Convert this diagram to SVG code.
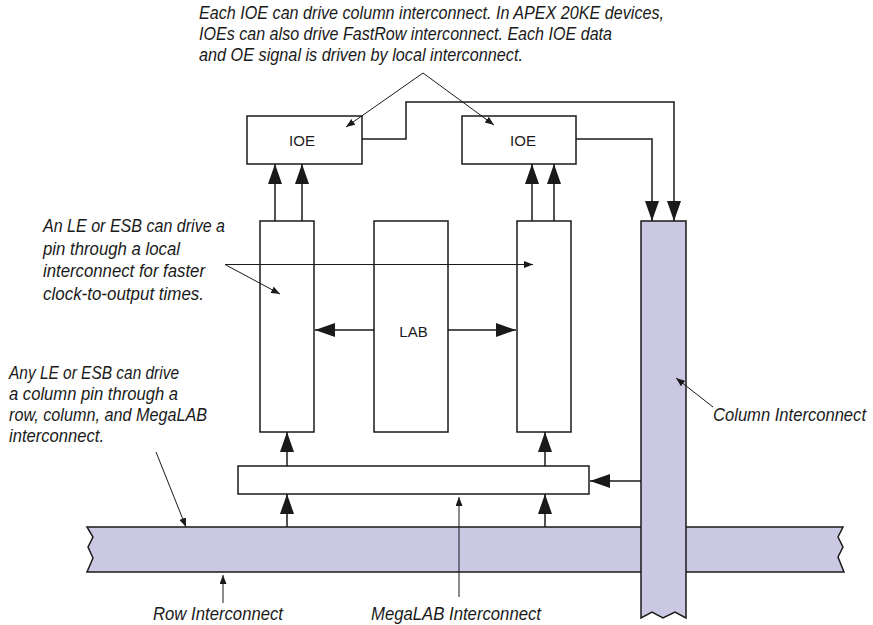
<svg xmlns="http://www.w3.org/2000/svg" width="873" height="625" viewBox="0 0 873 625">
<style>
.box{fill:#fff;stroke:#1a1a1a;stroke-width:1.5}
.band{fill:#cac8e3;stroke:#1a1a1a;stroke-width:1.5}
.conn{fill:none;stroke:#1a1a1a;stroke-width:1.5}
.ann{fill:none;stroke:#1a1a1a;stroke-width:1}
.lbl{font-family:"Liberation Sans",Arial,sans-serif;font-size:15px;fill:#1a1a1a;text-anchor:middle}
.note{font-family:"Liberation Sans",Arial,sans-serif;font-size:17.5px;font-style:italic;fill:#1a1a1a}
</style>
<defs>
<marker id="big" viewBox="0 0 20 14" markerWidth="20" markerHeight="14" refX="20" refY="7" orient="auto" markerUnits="userSpaceOnUse">
<path d="M0,0 L20,7 L0,14 z" fill="#1a1a1a"/>
</marker>
<marker id="small" viewBox="0 0 9 7" markerWidth="9" markerHeight="7" refX="9" refY="3.5" orient="auto" markerUnits="userSpaceOnUse">
<path d="M0,0 L9,3.5 L0,7 z" fill="#1a1a1a"/>
</marker>
</defs>
<rect width="873" height="625" fill="#fff"/>

<g id="row-interconnect">
<polygon class="band" points="87,527 843,527 838,537 843,547 838,557 844,572 87,572 93,558 88,547 93,537"/>
</g>
<g id="column-interconnect">
<polygon class="band" points="641,221 686,221 686,618 675,612 663,618 652,612 641,618"/>
</g>

<g id="ioe-left">
<rect class="box" x="247" y="116" width="115" height="48"/>
<text class="lbl" x="302" y="146">IOE</text>
</g>
<g id="ioe-right">
<rect class="box" x="462" y="116" width="114" height="48"/>
<text class="lbl" x="523" y="146">IOE</text>
</g>
<g id="le-left">
<rect class="box" x="260" y="221" width="54" height="211"/>
</g>
<g id="lab">
<rect class="box" x="374" y="221" width="74" height="211"/>
<text class="lbl" x="413.5" y="337">LAB</text>
</g>
<g id="le-right">
<rect class="box" x="517" y="221" width="54" height="211"/>
</g>
<g id="megalab">
<rect class="box" x="238" y="466" width="351" height="28"/>
</g>

<g id="connectors">
<path class="conn" d="M275,221 V164" marker-end="url(#big)"/>
<path class="conn" d="M302,221 V164" marker-end="url(#big)"/>
<path class="conn" d="M532,221 V164" marker-end="url(#big)"/>
<path class="conn" d="M554,221 V164" marker-end="url(#big)"/>
<path class="conn" d="M362,139 H406 V102 H674 V221" marker-end="url(#big)"/>
<path class="conn" d="M576,139 H652 V221" marker-end="url(#big)"/>
<path class="conn" d="M374,330 H315" marker-end="url(#big)"/>
<path class="conn" d="M448,330 H516" marker-end="url(#big)"/>
<path class="conn" d="M287,466 V432" marker-end="url(#big)"/>
<path class="conn" d="M545,466 V432" marker-end="url(#big)"/>
<path class="conn" d="M287,527 V494" marker-end="url(#big)"/>
<path class="conn" d="M545,527 V494" marker-end="url(#big)"/>
<path class="conn" d="M641,481 H590" marker-end="url(#big)"/>
</g>

<g id="annotation-lines">
<path class="ann" d="M423,73 L346,127" marker-end="url(#small)"/>
<path class="ann" d="M423,73 L494,125" marker-end="url(#small)"/>
<path class="ann" d="M225,264.5 L280,294" marker-end="url(#small)"/>
<path class="ann" d="M225,264.5 H533" marker-end="url(#small)"/>
<path class="ann" d="M156,452 L186,527" marker-end="url(#small)"/>
<path class="ann" d="M713,407 L676,378" marker-end="url(#small)"/>
<path class="ann" d="M223,603 V575" marker-end="url(#small)"/>
<path class="ann" d="M459,597 V497" marker-end="url(#small)"/>
</g>

<g id="notes">
<text class="note" x="199" y="19" textLength="465" lengthAdjust="spacingAndGlyphs">Each IOE can drive column interconnect. In APEX 20KE devices,</text>
<text class="note" x="199" y="40" textLength="413" lengthAdjust="spacingAndGlyphs">IOEs can also drive FastRow interconnect. Each IOE data</text>
<text class="note" x="199" y="60.5" textLength="324" lengthAdjust="spacingAndGlyphs">and OE signal is driven by local interconnect.</text>

<text class="note" x="43" y="232" textLength="182" lengthAdjust="spacingAndGlyphs">An LE or ESB can drive a</text>
<text class="note" x="43" y="254.5" textLength="137" lengthAdjust="spacingAndGlyphs">pin through a local</text>
<text class="note" x="43" y="277" textLength="162" lengthAdjust="spacingAndGlyphs">interconnect for faster</text>
<text class="note" x="43" y="299.5" textLength="161" lengthAdjust="spacingAndGlyphs">clock-to-output times.</text>

<text class="note" x="9" y="379" textLength="170" lengthAdjust="spacingAndGlyphs">Any LE or ESB can drive</text>
<text class="note" x="9" y="400" textLength="169" lengthAdjust="spacingAndGlyphs">a column pin through a</text>
<text class="note" x="9" y="421" textLength="198" lengthAdjust="spacingAndGlyphs">row, column, and MegaLAB</text>
<text class="note" x="9" y="442" textLength="95" lengthAdjust="spacingAndGlyphs">interconnect.</text>

<text class="note" x="713" y="421" textLength="153" lengthAdjust="spacingAndGlyphs">Column Interconnect</text>
<text class="note" x="153" y="620" textLength="130" lengthAdjust="spacingAndGlyphs">Row Interconnect</text>
<text class="note" x="371" y="620" textLength="170" lengthAdjust="spacingAndGlyphs">MegaLAB Interconnect</text>
</g>
</svg>
